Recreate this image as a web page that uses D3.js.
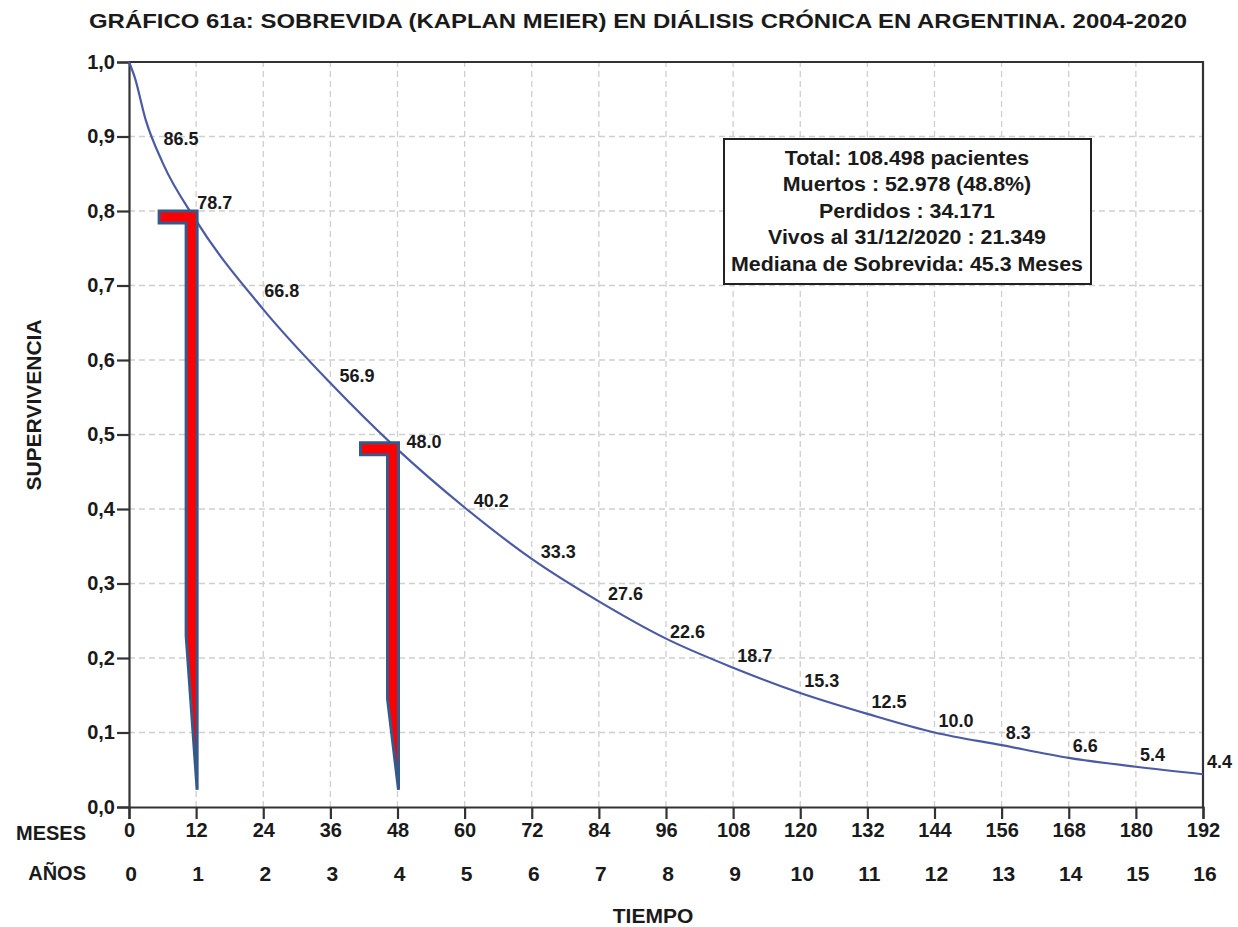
<!DOCTYPE html>
<html>
<head>
<meta charset="utf-8">
<script src="https://cdn.jsdelivr.net/npm/d3@7"></script>
<style>
  body { margin: 0; background: #fff; }
  text { font-family: "Liberation Sans", Arial, sans-serif; fill: #1a1a1a; }
</style>
</head>
<body>
<div id="chart"></div>
<script>
// curve points (months, survival)
const months = [0, 1, 3, 6, 12, 24, 36, 48, 60, 72, 84, 96, 108, 120, 132, 144, 156, 168, 180, 192];
const survival = [1.0, 0.98, 0.922, 0.865, 0.787, 0.668, 0.569, 0.48, 0.402, 0.333, 0.276, 0.226, 0.187, 0.153, 0.125, 0.100, 0.083, 0.066, 0.054, 0.044];

// labelled values
const labelMonths = [6, 12, 24, 36, 48, 60, 72, 84, 96, 108, 120, 132, 144, 156, 168, 180, 192];
const labelValues = ['86.5', '78.7', '66.8', '56.9', '48.0', '40.2', '33.3', '27.6', '22.6', '18.7', '15.3', '12.5', '10.0', '8.3', '6.6', '5.4', '4.4'];

const monthTicks = d3.range(0, 193, 12);
const yearTicks = d3.range(0, 17);
const yTicks = d3.range(0, 11).map(i => i / 10);

const boxLines = [
  'Total: 108.498 pacientes',
  'Muertos : 52.978 (48.8%)',
  'Perdidos : 34.171',
  'Vivos al 31/12/2020 : 21.349',
  'Mediana de Sobrevida: 45.3 Meses'
];

// red arrow markers: month, top value, start of taper, bottom
const markerMonths = [12, 48];
const markerTops = [0.80, 0.489];
const markerTapers = [0.23, 0.145];
const markerBottom = 0.023;

const width = 1238, height = 927;
const margin = { top: 62, right: 35, bottom: 120, left: 129 };

const svg = d3.select('#chart')
  .append('svg')
    .attr('width', width)
    .attr('height', height);

const x = d3.scaleLinear()
  .domain([0, 192])
  .range([margin.left, width - margin.right]);

const y = d3.scaleLinear()
  .domain([0, 1])
  .range([height - margin.bottom, margin.top]);

// grid
svg.append('g')
  .selectAll('line')
  .data(monthTicks.slice(1, -1))
  .enter().append('line')
    .attr('x1', d => x(d)).attr('x2', d => x(d))
    .attr('y1', y(0)).attr('y2', y(1))
    .attr('stroke', '#cfcfcf')
    .attr('stroke-width', 1.3)
    .attr('stroke-dasharray', '6,4');

svg.append('g')
  .selectAll('line')
  .data(yTicks.slice(1, -1))
  .enter().append('line')
    .attr('x1', x(0)).attr('x2', x(192))
    .attr('y1', d => y(d)).attr('y2', d => y(d))
    .attr('stroke', '#cfcfcf')
    .attr('stroke-width', 1.3)
    .attr('stroke-dasharray', '6,4');

// axes
const xAxis = svg.append('g')
  .attr('transform', `translate(0,${y(0)})`)
  .call(d3.axisBottom(x).tickValues(monthTicks).tickSize(12).tickPadding(4).tickFormat(d3.format('d')));

const yAxis = svg.append('g')
  .attr('transform', `translate(${x(0)},0)`)
  .call(d3.axisLeft(y).tickValues(yTicks).tickSize(12).tickPadding(2)
    .tickFormat(d => d3.format('.1f')(d).replace('.', ',')));

[xAxis, yAxis].forEach(a => {
  a.select('.domain').attr('stroke', '#333').attr('stroke-width', 2.2);
  a.selectAll('.tick line').attr('stroke', '#333').attr('stroke-width', 2.2);
  a.selectAll('.tick text')
    .attr('font-family', '"Liberation Sans", Arial, sans-serif')
    .attr('font-size', 20)
    .attr('font-weight', 'bold')
    .attr('fill', '#1a1a1a');
});

// top and right frame
svg.append('path')
  .attr('d', `M${x(0)},${y(1)}H${x(192)}V${y(0)}`)
  .attr('fill', 'none')
  .attr('stroke', '#333')
  .attr('stroke-width', 2.2);

// years row
svg.append('g')
  .selectAll('text')
  .data(yearTicks)
  .enter().append('text')
    .attr('x', d => x(d * 12) + 2)
    .attr('y', 881)
    .attr('text-anchor', 'middle')
    .attr('font-size', 21)
    .attr('font-weight', 'bold')
    .text(d => d);

svg.append('text')
  .attr('x', 86).attr('y', 840)
  .attr('text-anchor', 'end')
  .attr('font-size', 20)
  .attr('font-weight', 'bold')
  .text('MESES');

svg.append('text')
  .attr('x', 86).attr('y', 880)
  .attr('text-anchor', 'end')
  .attr('font-size', 20)
  .attr('font-weight', 'bold')
  .text('AÑOS');

svg.append('text')
  .attr('x', 653).attr('y', 923)
  .attr('text-anchor', 'middle')
  .attr('font-size', 21)
  .attr('font-weight', 'bold')
  .text('TIEMPO');

svg.append('text')
  .attr('transform', 'translate(41,405) rotate(-90)')
  .attr('text-anchor', 'middle')
  .attr('font-size', 21)
  .attr('font-weight', 'bold')
  .text('SUPERVIVENCIA');

// title
svg.append('text')
  .attr('x', 89).attr('y', 28)
  .attr('font-size', 20)
  .attr('font-weight', 'bold')
  .attr('textLength', 1098)
  .attr('lengthAdjust', 'spacingAndGlyphs')
  .text('GRÁFICO 61a: SOBREVIDA (KAPLAN MEIER) EN DIÁLISIS CRÓNICA EN ARGENTINA. 2004-2020');

// survival curve
const curveData = months.map((m, i) => ({ m, s: survival[i] }));
const line = d3.line()
  .x(d => x(d.m))
  .y(d => y(d.s))
  .curve(d3.curveMonotoneX);

svg.append('path')
  .datum(curveData)
  .attr('d', line)
  .attr('fill', 'none')
  .attr('stroke', '#4b5aa6')
  .attr('stroke-width', 2.2);

// value labels
const labelDx = i => (i < 3 ? 1 : i < 8 ? 9 : 4);
const labelDy = i => (i === 0 ? -18 : i < 3 ? -12 : i < 9 ? -1 : -6);

svg.append('g')
  .selectAll('text')
  .data(labelMonths)
  .enter().append('text')
    .attr('x', (d, i) => x(d) + labelDx(i))
    .attr('y', (d, i) => y(+labelValues[i] / 100) + labelDy(i))
    .attr('font-size', 18)
    .attr('font-weight', 'bold')
    .attr('fill', '#222')
    .text((d, i) => labelValues[i]);

// info box
const box = svg.append('g');
box.append('rect')
  .attr('x', 724).attr('y', 139)
  .attr('width', 367).attr('height', 145)
  .attr('fill', '#fff')
  .attr('stroke', '#222')
  .attr('stroke-width', 2);

box.selectAll('text')
  .data(boxLines)
  .enter().append('text')
    .attr('x', 907)
    .attr('y', (d, i) => 165 + i * 26.5)
    .attr('text-anchor', 'middle')
    .attr('font-size', 20)
    .attr('font-weight', 'bold')
    .attr('transform', 'translate(907,0) scale(1.07,1) translate(-907,0)')
    .text(d => d);

// red markers
markerMonths.forEach((m, i) => {
  const xr = x(m) + 1;
  const xl = xr - 11;
  const yt = y(markerTops[i]);
  const pts = [
    [xr - 38, yt],
    [xr, yt],
    [xr, y(markerBottom)],
    [xl, y(markerTapers[i])],
    [xl, yt + 12],
    [xr - 38, yt + 12]
  ];
  svg.append('path')
    .attr('d', d3.line()(pts) + 'Z')
    .attr('fill', '#ff0000')
    .attr('stroke', '#36598c')
    .attr('stroke-width', 3)
    .attr('stroke-linejoin', 'miter');
});
</script>
</body>
</html>
